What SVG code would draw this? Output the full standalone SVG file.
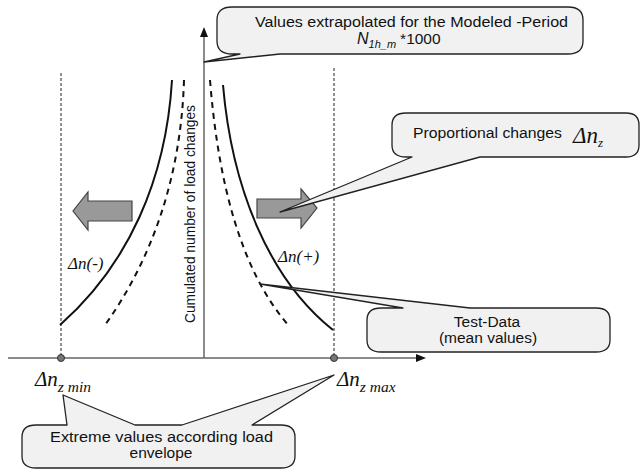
<svg xmlns="http://www.w3.org/2000/svg" width="642" height="470" viewBox="0 0 642 470">
<style>
.callout{fill:#f1f1f1;stroke:#222;stroke-width:1.3;stroke-linejoin:round}
.sans{font-family:"Liberation Sans",Arial,sans-serif;font-size:15.5px;fill:#111}
.math{font-family:"Liberation Serif","Times New Roman",serif;font-style:italic;fill:#111}
.axis{stroke:#666;stroke-width:1.5;fill:none}
.head{fill:#111}
.vdash{stroke:#222;stroke-width:1;stroke-dasharray:3,2;fill:none}
.curve{stroke:#111;stroke-width:2;fill:none}
.curve-d{stroke:#111;stroke-width:2;fill:none;stroke-dasharray:6,5}
.bigarrow{fill:#999;stroke:#444;stroke-width:1.2}
.dot{fill:#777;stroke:#333;stroke-width:1}
</style>
<rect width="642" height="470" fill="#fff"/>

<g id="connectors">
  <line class="axis" x1="204" y1="358" x2="204" y2="34"/>
  <polygon class="head" points="204,27 200,37 208,37"/>
  <line class="axis" x1="8" y1="358" x2="418" y2="358"/>
  <polygon class="head" points="426,358 416,354 416,362"/>
  <line class="vdash" x1="61" y1="73" x2="61" y2="358"/>
  <line class="vdash" x1="334" y1="68" x2="334" y2="358"/>
  <path class="curve" d="M172,80 C166,180 128,265 60,325"/>
  <path class="curve-d" d="M184,80 C181,180 150,262 105,325"/>
  <path class="curve-d" d="M210,80 C218,180 240,270 289,326"/>
  <path class="curve" d="M223,85 C232,190 270,280 333,330"/>
</g>

<g id="dot-min"><circle class="dot" cx="61" cy="358" r="3.5"/></g>
<g id="dot-max"><circle class="dot" cx="334" cy="358" r="3.5"/></g>

<g id="arrow-left"><polygon class="bigarrow" points="132,201 88,201 88,192 73,211 88,230 88,221 132,221"/></g>
<g id="arrow-right"><polygon class="bigarrow" points="257,199 301,199 301,189 317,208 301,228 301,218 257,218"/></g>

<g id="axis-label">
  <text class="sans" font-size="16" text-anchor="middle" textLength="218" lengthAdjust="spacingAndGlyphs" transform="translate(195,214) rotate(-90)">Cumulated number of load changes</text>
</g>

<g id="label-dn-minus"><text class="math" x="68" y="269" font-size="17">Δn(-)</text></g>
<g id="label-dn-plus"><text class="math" x="278" y="262" font-size="17">Δn(+)</text></g>

<g id="label-dnz-min"><text class="math" x="35" y="386" font-size="21">Δn<tspan font-size="15.5" dy="6">z min</tspan></text></g>
<g id="label-dnz-max"><text class="math" x="337" y="386" font-size="21">Δn<tspan font-size="15.5" dy="6">z max</tspan></text></g>

<g id="callout-extrapolated">
  <path class="callout" d="M232,7 H568 Q583,7 583,20 V41 Q583,54 568,54 H280 L204,62 L240,54 H232 Q217,54 217,41 V20 Q217,7 232,7 Z"/>
  <text class="sans" x="255" y="27" textLength="313" lengthAdjust="spacingAndGlyphs">Values extrapolated for the Modeled -Period</text>
  <text class="sans" x="357" y="44"><tspan font-style="italic" font-size="16">N</tspan><tspan font-style="italic" font-size="11" dy="4">1h_m</tspan><tspan dy="-4" dx="4">*1000</tspan></text>
</g>

<g id="callout-proportional">
  <path class="callout" d="M406,113 H626 Q639,113 639,125 V145 Q639,157 626,157 H480 L280,212 L412,157 H406 Q392,157 392,145 V125 Q392,113 406,113 Z"/>
  <text class="sans" x="413" y="138" textLength="149" lengthAdjust="spacingAndGlyphs">Proportional changes</text>
  <text class="math" x="573" y="143" font-size="23">Δn<tspan font-size="13" dy="4">z</tspan></text>
</g>

<g id="callout-testdata">
  <path class="callout" d="M381,308 H403 L260,284 L470,308 H596 Q610,308 610,320 V340 Q610,352 596,352 H381 Q367,352 367,340 V320 Q367,308 381,308 Z"/>
  <text class="sans" x="487" y="327" text-anchor="middle">Test-Data</text>
  <text class="sans" x="488" y="343" text-anchor="middle">(mean values)</text>
</g>

<g id="callout-extreme">
  <path class="callout" d="M36,425 H67 L63,395 L135,425 H182 L334,375 L252,425 H281 Q295,425 295,437 V456 Q295,468 281,468 H36 Q22,468 22,456 V437 Q22,425 36,425 Z"/>
  <text class="sans" x="50" y="442" font-size="16" textLength="223" lengthAdjust="spacingAndGlyphs">Extreme values according load</text>
  <text class="sans" x="161" y="458" text-anchor="middle" font-size="16">envelope</text>
</g>
</svg>
